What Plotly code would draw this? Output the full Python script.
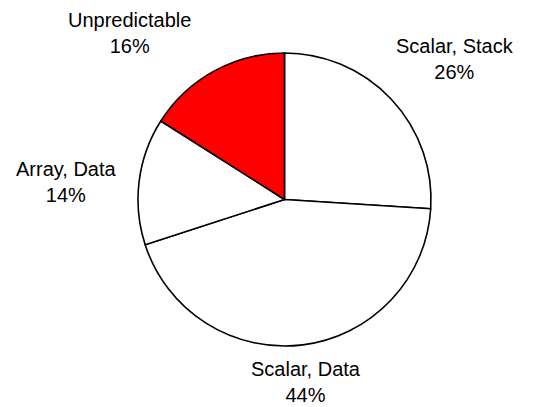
import plotly.graph_objects as go

W, H = 539, 407

labels = ["Scalar, Stack", "Scalar, Data", "Array, Data", "Unpredictable"]
values = [26, 44, 14, 16]
colors = ["#FFFFFF", "#FFFFFF", "#FFFFFF", "#FF0000"]

# label block centers in pixels (layout positions for text)
label_pos = [(455, 59), (306, 382), (66, 182), (129.5, 33)]

cx, cy, r = 284.5, 199.5, 146.5

fig = go.Figure(go.Pie(
    labels=labels,
    values=values,
    sort=False,
    direction="clockwise",
    rotation=0,
    marker=dict(colors=colors, line=dict(color="#000000", width=1.6)),
    textinfo="none",
    hoverinfo="label+percent",
    showlegend=False,
    domain=dict(x=[(cx - r) / W, (cx + r) / W], y=[1 - (cy + r) / H, 1 - (cy - r) / H]),
))

total = sum(values)
for lab, v, (px, py) in zip(labels, values, label_pos):
    fig.add_annotation(
        x=px / W, y=1 - py / H, xref="paper", yref="paper",
        text=f"{lab}<br>{round(100 * v / total)}%",
        showarrow=False, xanchor="center", yanchor="middle", align="center",
        font=dict(family="Liberation Sans, Arial, sans-serif", size=20, color="#000000"),
    )

fig.update_layout(
    width=W, height=H,
    margin=dict(l=0, r=0, t=0, b=0),
    paper_bgcolor="#FFFFFF",
    plot_bgcolor="#FFFFFF",
)

fig.write_html("out.html")
